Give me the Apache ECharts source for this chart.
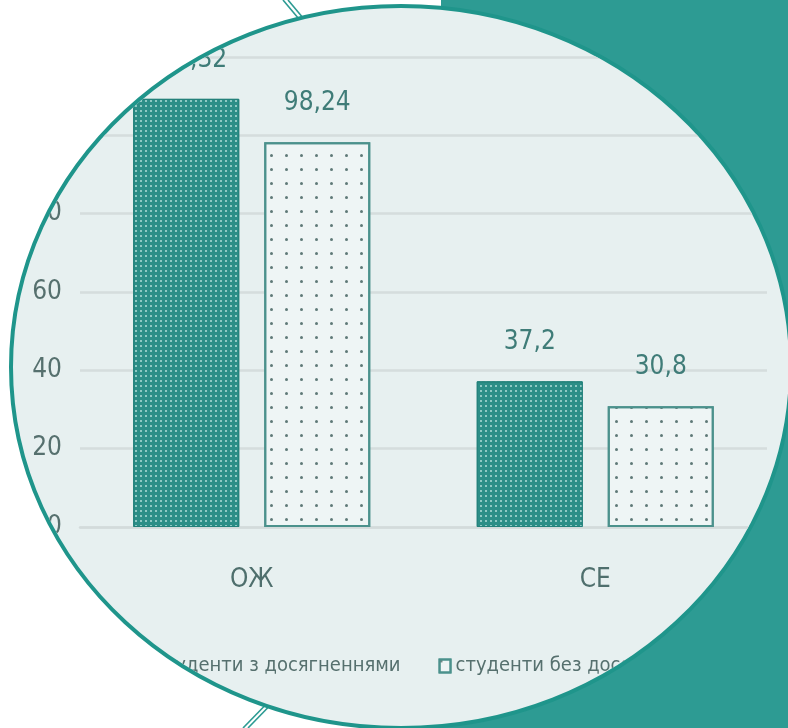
<!DOCTYPE html>
<html>
<head>
<meta charset="utf-8">
<script src="https://cdn.jsdelivr.net/npm/echarts@6/dist/echarts.min.js"></script>
<style>
  html, body { margin: 0; padding: 0; background: #ffffff; }
  #wrap { position: relative; width: 788px; height: 728px; overflow: hidden; }
  #bg, #chart { position: absolute; left: 0; top: 0; width: 788px; height: 728px; }
  #chart { clip-path: ellipse(388px 359px at 401px 367px); }
</style>
</head>
<body>
<div id="wrap">
  <div id="bg"></div>
  <div id="chart"></div>
</div>
<script>
// ---- data ----
const categories = ['ОЖ', 'СЕ'];
const seriesNames = ['студенти з досягненнями', 'студенти без досягнень'];
const withAchievements = [109.32, 37.2];
const withoutAchievements = [98.24, 30.8];
const yMin = 0, yMax = 120, yStep = 20;

// ---- styles ----
const FONT = "'Liberation Sans Narrow', 'DejaVu Sans Condensed', 'Roboto Condensed', 'Noto Sans', sans-serif";
const TEAL = '#2d9b93';

// background decoration
const bg = echarts.init(document.getElementById('bg'), null, { renderer: 'canvas' });
bg.setOption({
  animation: false,
  graphic: [
    { type: 'rect', shape: { x: 441, y: 0, width: 347, height: 728 }, style: { fill: TEAL } },
    { type: 'line', shape: { x1: 283, y1: 0, x2: 335, y2: 62 }, style: { stroke: TEAL, lineWidth: 1.6 } },
    { type: 'line', shape: { x1: 288, y1: 0, x2: 340, y2: 62 }, style: { stroke: TEAL, lineWidth: 1.6 } },
    { type: 'line', shape: { x1: 243, y1: 728, x2: 282, y2: 688 }, style: { stroke: TEAL, lineWidth: 1.6 } },
    { type: 'line', shape: { x1: 248, y1: 728, x2: 287, y2: 688 }, style: { stroke: TEAL, lineWidth: 1.6 } },
    { type: 'ellipse', shape: { cx: 401, cy: 367, rx: 390, ry: 361 },
      style: { fill: '#e7f0f0', stroke: '#1f958b', lineWidth: 4 } }
  ]
});

const fmt = p => String(p.value).replace('.', ',');

const chart = echarts.init(document.getElementById('chart'), null, { renderer: 'canvas' });
chart.setOption({
  animation: false,
  backgroundColor: 'transparent',
  textStyle: { fontFamily: FONT },
  grid: { left: 80, right: 21, top: 57, bottom: 201, containLabel: false },
  legend: {
    data: seriesNames,
    icon: 'rect',
    left: 133, top: 651,
    itemWidth: 11, itemHeight: 13, itemGap: 38,
    textStyle: { fontFamily: FONT, fontSize: 20, color: '#56706e' }
  },
  xAxis: {
    type: 'category',
    data: categories,
    axisLine: { lineStyle: { color: '#d3dbdb', width: 2.5 } },
    axisTick: { show: false },
    axisLabel: { margin: 40, fontSize: 26, color: '#4f6f6d', fontFamily: FONT }
  },
  yAxis: {
    type: 'value',
    min: yMin, max: yMax, interval: yStep,
    axisLine: { show: false },
    axisTick: { show: false },
    splitLine: { lineStyle: { color: '#d5dddd', width: 2.5 } },
    axisLabel: { margin: 18, fontSize: 26, color: '#56706e', fontFamily: FONT }
  },
  series: [
    {
      name: seriesNames[0],
      type: 'bar',
      data: withAchievements,
      barWidth: 106,
      barGap: '23.6%',
      itemStyle: {
        color: '#2c8e87',
        borderColor: '#23807a',
        borderWidth: 1,
        decal: {
          symbol: 'rect', symbolSize: 1,
          dashArrayX: [1.4, 2.1], dashArrayY: [1.4, 2.1],
          color: 'rgba(210,240,236,0.6)'
        }
      },
      label: {
        show: true, position: 'top', distance: 26,
        formatter: fmt, fontSize: 26, color: '#3f7c78', fontFamily: FONT
      }
    },
    {
      name: seriesNames[1],
      type: 'bar',
      data: withoutAchievements,
      barWidth: 106,
      barGap: '23.6%',
      itemStyle: {
        color: '#eef5f5',
        borderColor: '#4b918c',
        borderWidth: 2,
        decal: {
          symbol: 'circle', symbolSize: 1,
          dashArrayX: [2.4, 11.8], dashArrayY: [2.4, 10.6],
          color: '#5f7a78'
        }
      },
      label: {
        show: true, position: 'top', distance: 26,
        formatter: fmt, fontSize: 26, color: '#3f7c78', fontFamily: FONT
      }
    }
  ]
});
</script>
</body>
</html>
